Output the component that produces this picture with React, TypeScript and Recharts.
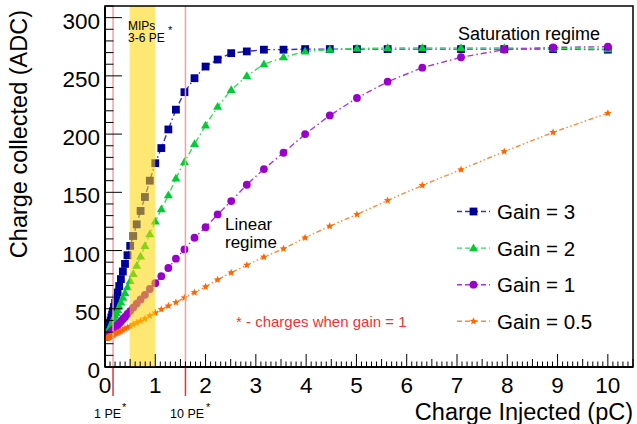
import { LineChart, Line, XAxis, YAxis, ReferenceArea, ReferenceLine } from 'recharts'

// injected charge (pC), 1 dB attenuation steps
const CHARGE_PC = [
  10, 8.91, 7.94, 7.08, 6.31, 5.62, 5.01, 4.47, 3.98, 3.55, 3.16, 2.82, 2.51, 2.24, 2.0, 1.78, 1.58,
  1.41, 1.26, 1.12, 1.0, 0.891, 0.794, 0.708, 0.631, 0.562, 0.501, 0.447, 0.398, 0.355, 0.316,
  0.282, 0.251, 0.224, 0.2, 0.178, 0.158, 0.141, 0.126, 0.112, 0.1, 0.089, 0.079, 0.071, 0.063,
  0.056, 0.05, 0.045, 0.04,
]
const GAIN_3 = [
  272.5, 273, 273, 273, 273, 273, 273, 273, 273, 272.5, 272.5, 271, 269.5, 264, 258, 248, 236,
  221, 204, 188, 175, 160, 146, 134, 122.5, 112.5, 104, 96, 88.5, 82, 75.5, 69.5, 64, 59, 55, 51.5,
  48, 45, 42.5, 40, 38, 36, 34.5, 33, 32, 31, 30, 29, 28.5,
]
const GAIN_2 = [
  273, 273.5, 274, 274, 274, 274, 273.5, 272.5, 271, 266, 260, 250, 238, 223.5, 207.5, 191.5, 176,
  162, 147.5, 135.5, 125, 114, 104, 95, 87, 80, 74, 68.5, 63.5, 59.5, 55.5, 52, 49, 46.5, 44, 42,
  40, 38, 36.5, 35, 34, 33, 32, 31, 30.5, 29.5, 29, 28.5, 28,
]
const GAIN_1 = [
  275, 274.5, 272.5, 266, 257, 245, 231, 216, 200, 184, 170, 156.5, 142.5, 131, 120, 111, 101, 93,
  85, 78, 72, 67, 62, 58, 54.5, 51, 48, 45.5, 43, 41, 39, 37.5, 36, 35, 33.5, 32.5, 31.5, 31, 30,
  29.5, 29, 28.5, 28, 27.5, 27, 26.5, 26.5, 26, 26,
]
const GAIN_05 = [
  218, 201.5, 185, 169.5, 156, 143, 131, 121, 111, 101.5, 94.5, 87.5, 81, 75, 69, 64, 59.5, 55.5,
  52.5, 49.5, 46.5, 44, 41.5, 39.5, 38, 36.5, 35, 34, 33, 32, 31, 30, 29.5, 29, 28.5, 28, 27.5, 27,
  27, 26.5, 26, 26, 25.5, 25.5, 25.5, 25, 25, 25, 25,
]

const X_TICKS = Array.from({ length: 106 }, (_, i) => i / 10)
const Y_TICKS = Array.from({ length: 32 }, (_, i) => i * 10)

const PE_1 = 0.16
const PE_10 = 1.6
const MIP_FROM = 0.49
const MIP_TO = 1.0

const SERIES = [
  { key: 'g3', name: 'Gain = 3', color: '#000099', line: '#3535bb', dash: '6 3 1.5 3' },
  { key: 'g2', name: 'Gain = 2', color: '#00cc33', line: '#33dd55', dash: '6 3 1.5 3' },
  { key: 'g1', name: 'Gain = 1', color: '#9900cc', line: '#aa33dd', dash: '6 3 1.5 3' },
  { key: 'g05', name: 'Gain = 0.5', color: '#ff6600', line: '#ff8833', dash: '5 2.5 1.5 2.5 1.5 2.5' },
]

const data = CHARGE_PC.map((x, i) => ({
  x,
  g3: GAIN_3[i],
  g2: GAIN_2[i],
  g1: GAIN_1[i],
  g05: GAIN_05[i],
}))

const FONT = '"Liberation Sans", Arial, Helvetica, sans-serif'

function Marker({ kind, cx, cy, color }: any) {
  if (kind === 'g3') return <rect x={cx - 3.9} y={cy - 3.9} width={7.8} height={7.8} fill={color} />
  if (kind === 'g2')
    return <polygon points={`${cx},${cy - 4.7} ${cx - 4.5},${cy + 3.1} ${cx + 4.5},${cy + 3.1}`} fill={color} />
  if (kind === 'g1') return <circle cx={cx} cy={cy} r={3.9} fill={color} />
  const pts: string[] = []
  for (let k = 0; k < 10; k++) {
    const r = k % 2 === 0 ? 4 : 1.8
    const a = -Math.PI / 2 + (k * Math.PI) / 5
    pts.push(`${cx + r * Math.cos(a)},${cy + r * Math.sin(a)}`)
  }
  return <polygon points={pts.join(' ')} fill={color} />
}

function XTick({ x, y, payload }: any) {
  const tenth = Math.round(payload.value * 10)
  const major = tenth % 10 === 0
  const len = major ? 13 : tenth % 5 === 0 ? 8 : 5.5
  return (
    <g>
      <line x1={x} x2={x} y1={y} y2={y - len} stroke="#000" strokeWidth={1} />
      {major && (
        <text x={x} y={y + 26} textAnchor="middle" fontSize={22.5} fontFamily={FONT} fill="#000">
          {tenth / 10}
        </text>
      )}
    </g>
  )
}

function YTick({ x, y, payload }: any) {
  const v = payload.value
  const major = v % 50 === 0
  return (
    <g>
      <line x1={x} x2={x + (major ? 17 : 8.5)} y1={y} y2={y} stroke="#000" strokeWidth={1} />
      {major && (
        <text x={x - 5} y={y + 11} textAnchor="end" fontSize={22.5} fontFamily={FONT} fill="#000">
          {v}
        </text>
      )}
    </g>
  )
}

function PeLine(props: any) {
  const { x1, y1, y2 } = props
  const top = Math.min(y1, y2)
  const bottom = Math.max(y1, y2)
  return (
    <g>
      <line x1={x1} x2={x1} y1={top} y2={bottom} stroke="#f4a0a0" strokeWidth={1.5} />
      <line x1={x1} x2={x1} y1={bottom} y2={bottom + 29} stroke="#e83030" strokeWidth={1.5} />
    </g>
  )
}

export default function App() {
  return (
    <div style={{ position: 'absolute', left: 0, top: 0, width: 637, height: 424, background: '#fff' }}>
      <LineChart width={637} height={424} data={data} margin={{ top: 6, right: 4, bottom: 0, left: 0 }}>
        <XAxis
          dataKey="x"
          type="number"
          domain={[0, 10.5]}
          ticks={X_TICKS}
          interval={0}
          tick={(p: any) => <XTick {...p} />}
          tickLine={false}
          tickSize={0}
          tickMargin={0}
          axisLine={{ stroke: '#000', strokeWidth: 2 }}
          height={57}
          allowDataOverflow
        />
        <YAxis
          type="number"
          domain={[0, 310]}
          ticks={Y_TICKS}
          interval={0}
          tick={(p: any) => <YTick {...p} />}
          tickLine={false}
          tickSize={0}
          tickMargin={0}
          axisLine={{ stroke: '#000', strokeWidth: 2 }}
          width={105}
          allowDataOverflow
        />
        {SERIES.map((s) => (
          <Line
            key={s.key}
            dataKey={s.key}
            type="linear"
            stroke={s.line}
            strokeWidth={1.4}
            strokeDasharray={s.dash}
            isAnimationActive={false}
            activeDot={false}
            dot={(p: any) => <Marker key={`${s.key}-${p.index}`} kind={s.key} cx={p.cx} cy={p.cy} color={s.color} />}
          />
        ))}
        <ReferenceArea
          x1={MIP_FROM}
          x2={MIP_TO}
          y1={0}
          y2={310}
          fill="#ffd400"
          fillOpacity={0.55}
          stroke="none"
          zIndex={650}
        />
        <ReferenceLine x={PE_1} shape={PeLine} zIndex={660} />
        <ReferenceLine x={PE_10} shape={PeLine} zIndex={660} />
        <ReferenceArea x1={0} x2={10.5} y1={0} y2={310} fill="none" stroke="#000" strokeWidth={1.5} zIndex={700} />
      </LineChart>
      <svg
        width={637}
        height={424}
        style={{ position: 'absolute', left: 0, top: 0, pointerEvents: 'none' }}
        fontFamily={FONT}
      >
        <text transform="translate(27,10) rotate(-90)" textAnchor="end" fontSize={23.5} fill="#000">
          Charge collected (ADC)
        </text>
        <text x={633} y={420} textAnchor="end" fontSize={23.5} fill="#000">
          Charge Injected (pC)
        </text>
        <text x={458} y={40} fontSize={18} fill="#000">Saturation regime</text>
        <text x={225} y={230} fontSize={17} fill="#000">Linear</text>
        <text x={225} y={248} fontSize={17} fill="#000">regime</text>
        <text x={128} y={29.5} fontSize={12} fill="#000">MIPs</text>
        <text x={128} y={42} fontSize={12} fill="#000">3-6 PE</text>
        <text x={168} y={34} fontSize={11} fill="#000">*</text>
        <text x={236} y={327} fontSize={15} fill="#ee3333">* - charges when gain = 1</text>
        <text x={94} y={418} fontSize={12.5} fill="#000">1 PE</text>
        <text x={122} y={411} fontSize={11} fill="#000">*</text>
        <text x={170} y={418} fontSize={12.5} fill="#000">10 PE</text>
        <text x={206} y={411} fontSize={11} fill="#000">*</text>
        {SERIES.map((s, i) => {
          const cy = 211.5 + i * 36.6
          return (
            <g key={s.key}>
              <line x1={457} x2={490} y1={cy} y2={cy} stroke={s.line} strokeWidth={1.4} strokeDasharray="5 3" />
              <Marker kind={s.key} cx={473.5} cy={cy} color={s.color} />
              <text x={497} y={cy + 7.5} fontSize={20.5} fill="#000">
                {s.name}
              </text>
            </g>
          )
        })}
      </svg>
    </div>
  )
}
